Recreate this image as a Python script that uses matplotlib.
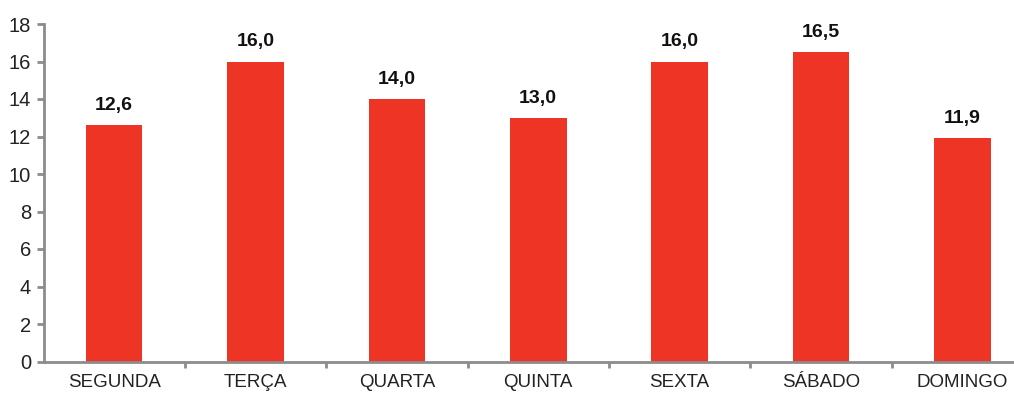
import matplotlib
matplotlib.use("Agg")
import matplotlib.pyplot as plt
import numpy as np

dias = ["SEGUNDA", "TERÇA", "QUARTA", "QUINTA", "SEXTA", "SÁBADO", "DOMINGO"]
valores = [12.6, 16.0, 14.0, 13.0, 16.0, 16.5, 11.9]
y_ticks = [0, 2, 4, 6, 8, 10, 12, 14, 16, 18]

plt.rcParams['font.family'] = ['Liberation Sans', 'DejaVu Sans']

fig = plt.figure(figsize=(10.14, 4.2), dpi=100)
ax = fig.add_axes([43.5 / 1014, 1 - 361.5 / 420, 1 - 43.5 / 1014, 337.5 / 420])

cor = "#ee3424"
cinza = "#8c8c8c"
x = np.arange(len(dias))
ax.bar(x, valores, width=0.40, color=cor, zorder=2)

for xi, v in zip(x, valores):
    ax.text(xi, v + 0.6, f"{v:.1f}".replace(".", ","), ha="center", va="bottom",
            fontsize=14, fontweight="bold", color="#111111")

ax.set_ylim(0, 18)
ax.set_yticks(y_ticks)
ax.set_yticklabels([str(t) for t in y_ticks], fontsize=14.5, color="#222222")
ax.set_xlim(-0.5, 6.5 - 19 / 141.4)
ax.set_xticks(x)
ax.set_xticklabels(dias, fontsize=13.5, color="#222222")
ax.tick_params(axis="x", length=0, pad=9)
ax.tick_params(axis="y", length=5, width=2, color=cinza, pad=4)
# small ticks between categories on the x axis
ax.set_xticks(np.arange(0.5, 6.5, 1), minor=True)
ax.tick_params(axis="x", which="minor", length=4, width=2, color=cinza)

for s in ["top", "right"]:
    ax.spines[s].set_visible(False)
for s in ["left", "bottom"]:
    ax.spines[s].set_color(cinza)
    ax.spines[s].set_linewidth(2)

fig.savefig("out.png", dpi=100)
